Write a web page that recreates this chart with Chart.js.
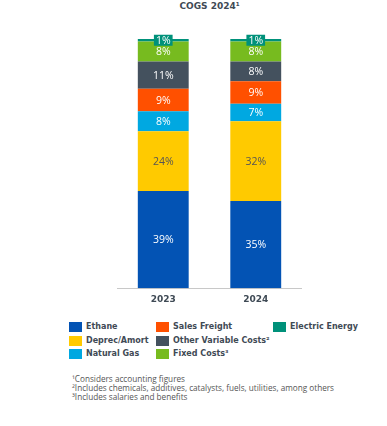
<!DOCTYPE html>
<html>
<head>
<meta charset="utf-8">
<script src="https://cdn.jsdelivr.net/npm/chart.js@4"></script>
<style>
  html, body { margin: 0; padding: 0; background: #fff; }
  body { width: 387px; height: 426px; position: relative; overflow: hidden; font-family: "DejaVu Sans", sans-serif; }
  #title { position: absolute; left: 117px; width: 185px; top: 1px; text-align: center; font: bold 9px "DejaVu Sans", sans-serif; color: #3f4a55; }
  #wrap { position: absolute; left: 117px; top: 0px; width: 185px; height: 311px; }
  .leg { position: absolute; font: bold 8px "DejaVu Sans", sans-serif; color: #3f4a55; white-space: nowrap; line-height: 10px; }
  .sw { position: absolute; width: 13px; height: 10px; }
  #notes { position: absolute; left: 72px; top: 375px; font: 8.2px "Open Sans", sans-serif; color: #555; line-height: 8.8px; white-space: nowrap; }
</style>
</head>
<body>
<div id="title">COGS 2024¹</div>
<div id="wrap"><canvas id="c"></canvas></div>
<div id="legend"></div>
<div id="notes">¹Considers accounting figures<br>²Includes chemicals, additives, catalysts, fuels, utilities, among others<br>³Includes salaries and benefits</div>
<script>
const categories = ["2023", "2024"];
const seriesNames = ["Ethane", "Deprec/Amort", "Natural Gas", "Sales Freight", "Other Variable Costs²", "Fixed Costs³", "Electric Energy"];
const ethane = [39, 35];
const deprecAmort = [24, 32];
const naturalGas = [8, 7];
const salesFreight = [9, 9];
const otherVariable = [11, 8];
const fixedCosts = [8, 8];
const electricEnergy = [1, 1];
const seriesValues = [ethane, deprecAmort, naturalGas, salesFreight, otherVariable, fixedCosts, electricEnergy];
const colors = ["#0353b4", "#ffca00", "#00a8e1", "#ff5000", "#44515e", "#77bb1f", "#00917a"];
const labelColors = ["#ffffff", "#555555", "#ffffff", "#ffffff", "#ffffff", "#ffffff", "#ffffff"];

// HTML legend (column layout like reference)
const legendPos = [
  [69, 322], [69, 336], [69, 349],
  [156, 322], [156, 336], [156, 349],
  [273, 322]
];
const legendDiv = document.getElementById("legend");
seriesNames.forEach((name, i) => {
  const [x, y] = legendPos[i];
  const sw = document.createElement("div");
  sw.className = "sw"; sw.style.left = x + "px"; sw.style.top = y + "px"; sw.style.background = colors[i];
  legendDiv.appendChild(sw);
  const t = document.createElement("div");
  t.className = "leg"; t.style.left = (x + 17) + "px"; t.style.top = (y) + "px";
  t.textContent = name;
  legendDiv.appendChild(t);
});

const labelPlugin = {
  id: "segLabels",
  afterDatasetsDraw(chart) {
    const ctx = chart.ctx;
    ctx.save();
    ctx.font = '10.5px "Open Sans", sans-serif';
    ctx.textAlign = "center";
    ctx.textBaseline = "middle";
    chart.data.datasets.forEach((ds, di) => {
      const meta = chart.getDatasetMeta(di);
      meta.data.forEach((el, i) => {
        const v = ds.data[i];
        const txt = v + "%";
        const cx = el.x;
        const cy = (el.y + el.base) / 2;
        if (di === 6) {
          const w = ctx.measureText(txt).width + 4;
          ctx.fillStyle = colors[6];
          ctx.fillRect(cx - w / 2, cy - 5.5, w, 11);
        }
        ctx.fillStyle = labelColors[di];
        ctx.fillText(txt, cx, cy + 0.5);
      });
    });
    ctx.restore();
  }
};

new Chart(document.getElementById("c"), {
  type: "bar",
  data: {
    labels: categories,
    datasets: seriesValues.map((vals, i) => ({
      label: seriesNames[i],
      data: vals,
      backgroundColor: colors[i],
      borderWidth: 0,
      categoryPercentage: 1,
      barPercentage: 0.55
    }))
  },
  options: {
    responsive: true,
    maintainAspectRatio: false,
    animation: false,
    layout: { padding: { top: 39, left: 0, right: 0, bottom: 0 } },
    plugins: { legend: { display: false }, title: { display: false }, tooltip: { enabled: false } },
    scales: {
      x: {
        stacked: true,
        grid: { display: false, drawTicks: false },
        border: { display: true, color: "#c8c8c8", width: 1 },
        ticks: { color: "#3f4a55", font: { family: "DejaVu Sans", size: 9, weight: "bold" }, padding: 6 }
      },
      y: {
        stacked: true, display: false, min: 0, max: 100
      }
    }
  },
  plugins: [labelPlugin]
});
</script>
</body>
</html>
